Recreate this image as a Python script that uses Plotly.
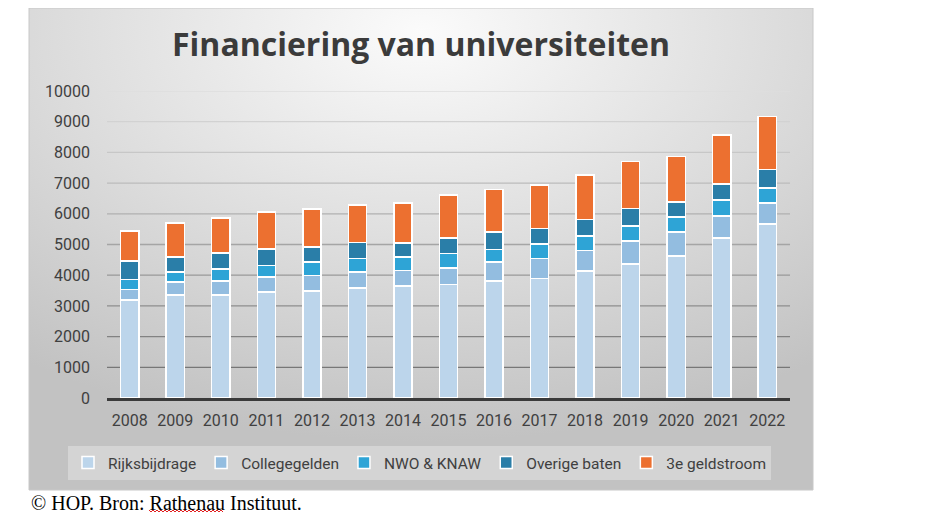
import base64
import plotly.graph_objects as go

years = ["2008", "2009", "2010", "2011", "2012", "2013", "2014", "2015",
         "2016", "2017", "2018", "2019", "2020", "2021", "2022"]
rijksbijdrage = [3185, 3348, 3348, 3446, 3489, 3576, 3641, 3696, 3804, 3891, 4130, 4370, 4620, 5217, 5674]
collegegelden = [348, 435, 456, 489, 500, 533, 511, 543, 620, 652, 674, 739, 782, 707, 685]
nwo_knaw = [326, 315, 392, 380, 435, 434, 446, 468, 413, 468, 468, 489, 489, 522, 478]
overige_baten = [598, 500, 532, 544, 500, 522, 456, 510, 576, 511, 543, 576, 500, 532, 609]
derde_geldstroom = [978, 1109, 1142, 1206, 1239, 1218, 1305, 1392, 1380, 1424, 1446, 1533, 1468, 1587, 1717]
y_ticks = [0, 1000, 2000, 3000, 4000, 5000, 6000, 7000, 8000, 9000, 10000]

series = [
    ("Rijksbijdrage", rijksbijdrage, "#bcd5eb"),
    ("Collegegelden", collegegelden, "#93bde0"),
    ("NWO & KNAW", nwo_knaw, "#2ea4d6"),
    ("Overige baten", overige_baten, "#2a7ea8"),
    ("3e geldstroom", derde_geldstroom, "#ec7030"),
]

# page body has an 8px margin; work in reference pixels and shift
OFF = 8
W, H = 942 - 2 * OFF, 530 - 2 * OFF
L, R, T, B = 107 - OFF, 790 - OFF, 91 - OFF, 398 - OFF
pw, ph = R - L, B - T

def px_x(x):
    return (x - OFF - L) / pw

def px_y(y):
    return (B - (y - OFF)) / ph

fig = go.Figure()
for name, vals, col in series:
    fig.add_trace(go.Bar(
        x=years, y=vals, name=name,
        marker=dict(color=col, line=dict(color="white", width=1.5)),
    ))

# gradient background box
svg = ('<svg xmlns="http://www.w3.org/2000/svg" width="784" height="482" preserveAspectRatio="none">'
       '<defs><radialGradient id="g" cx="0.5" cy="0.05" r="0.85" gradientUnits="objectBoundingBox">'
       '<stop offset="0" stop-color="#fbfbfb"/><stop offset="0.55" stop-color="#dcdcdc"/>'
       '<stop offset="1" stop-color="#c2c2c2"/></radialGradient></defs>'
       '<rect width="784" height="482" fill="url(#g)"/></svg>')
src = "data:image/svg+xml;base64," + base64.b64encode(svg.encode()).decode()
bx0, bx1, by0, by1 = 29, 813, 8, 490
fig.add_layout_image(dict(
    source=src, xref="paper", yref="paper",
    x=px_x(bx0), y=px_y(by0), sizex=(bx1 - bx0) / pw, sizey=(by1 - by0) / ph,
    xanchor="left", yanchor="top", sizing="stretch", layer="below",
))

shapes = [dict(type="rect", xref="paper", yref="paper",
               x0=px_x(bx0), x1=px_x(bx1), y0=px_y(by1), y1=px_y(by0),
               line=dict(color="#c8c8c8", width=1), fillcolor="rgba(0,0,0,0)", layer="below")]
for v in y_ticks[1:]:
    t = v / 10000
    c = int(108 + t * (222 - 108))
    shapes.append(dict(type="line", xref="paper", yref="y", x0=0, x1=1, y0=v, y1=v,
                       line=dict(color=f"rgb({c},{c},{c})", width=1.3), layer="below"))

# spell-check squiggle under "Rathenau" in the caption
pts = []
sx = 149
k = 0
while sx <= 223:
    sy = 510 if k % 2 == 0 else 512
    pts.append(f"{px_x(sx):.5f},{px_y(sy):.5f}")
    sx += 2
    k += 1
shapes.append(dict(type="path", xref="paper", yref="paper", path="M" + " L".join(pts),
                   line=dict(color="#e02020", width=1)))

fig.update_layout(
    width=W, height=H,
    margin=dict(l=L, r=W - R, t=T, b=H - B),
    paper_bgcolor="white", plot_bgcolor="rgba(0,0,0,0)",
    barmode="stack", bargap=0.6,
    shapes=shapes,
    title=dict(text="<b>Financiering van universiteiten</b>", xref="container", yref="container",
               x=(421 - OFF) / W, y=1 - (45 - OFF) / H, xanchor="center", yanchor="middle",
               font=dict(family="Open Sans", size=32, color="#3b3b3b")),
    font=dict(family="Roboto", size=16, color="#404040"),
    xaxis=dict(showgrid=False, showline=True, linecolor="#3a3a3a", linewidth=3,
               ticks="", ticklabelstandoff=6, tickfont=dict(size=16, color="#404040")),
    yaxis=dict(range=[0, 10000], tickvals=y_ticks, ticktext=[str(v) for v in y_ticks],
               showgrid=False, zeroline=False,
               ticklabelstandoff=16, tickfont=dict(size=16, color="#404040")),
    legend=dict(orientation="h", xref="paper", yref="paper",
                x=px_x(68), xanchor="left", y=px_y(446), yanchor="top",
                bgcolor="rgba(255,255,255,0.3)", font=dict(size=15.5, color="#404040"),
                traceorder="normal", itemwidth=30),
    showlegend=True,
    annotations=[dict(text="© HOP. Bron: Rathenau Instituut.", xref="paper", yref="paper",
                      x=px_x(29), y=px_y(503), xanchor="left", yanchor="middle", showarrow=False,
                      font=dict(family="Liberation Serif", size=20, color="black"))],
)

fig.write_html("out.html")
